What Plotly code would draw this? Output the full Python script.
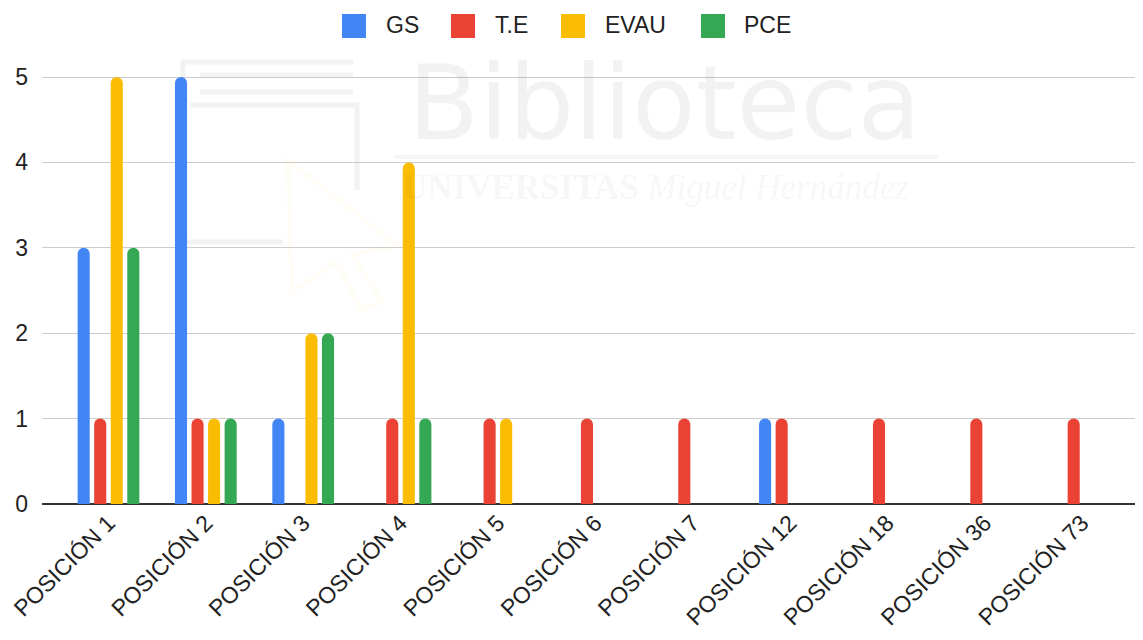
import plotly.graph_objects as go

categories = ["POSICIÓN 1", "POSICIÓN 2", "POSICIÓN 3", "POSICIÓN 4", "POSICIÓN 5",
              "POSICIÓN 6", "POSICIÓN 7", "POSICIÓN 12", "POSICIÓN 18", "POSICIÓN 36", "POSICIÓN 73"]
gs   = [3, 5, 1, 0, 0, 0, 0, 1, 0, 0, 0]
te   = [1, 1, 0, 1, 1, 1, 1, 1, 1, 1, 1]
evau = [5, 1, 2, 4, 1, 0, 0, 0, 0, 0, 0]
pce  = [3, 1, 2, 1, 0, 0, 0, 0, 0, 0, 0]
series_names = ["GS", "T.E", "EVAU", "PCE"]
y_ticks = [0, 1, 2, 3, 4, 5]

colors = ["#4285F4", "#EA4335", "#FBBC04", "#34A853"]
series = list(zip(series_names, [gs, te, evau, pce], colors))

FONT = "Liberation Sans, Arial, sans-serif"
TXT = "#222222"

fig = go.Figure()
for name, vals, col in series:
    fig.add_trace(go.Bar(name=name, x=categories, y=vals, marker_color=col,
                         marker_line_width=0, showlegend=False))

# page has an 8px body margin; plot area in page pixels: x 42..1143, y 70..504
OFF = 8
W, H = 1143 - OFF, 640 - OFF
P_LEFT, P_RIGHT, P_TOP, P_BOTTOM = 42, 1143, 70, 504
left, right = P_LEFT - OFF, (W + OFF) - P_RIGHT
top, bottom = P_TOP - OFF, (H + OFF) - P_BOTTOM
plot_w = P_RIGHT - P_LEFT
plot_h = P_BOTTOM - P_TOP
ymax = 5 * plot_h / (P_BOTTOM - 77)

fig.update_layout(
    width=W, height=H,
    margin=dict(l=left, r=right, t=top, b=bottom, pad=0, autoexpand=False),
    paper_bgcolor="white", plot_bgcolor="white",
    barmode="group", bargap=0.32, bargroupgap=0.27,
    barcornerradius=6,
    font=dict(family=FONT, size=23, color=TXT),
    showlegend=False,
    xaxis=dict(range=[-0.683, 10.627], tickangle=-45, showgrid=False, automargin=False,
               showline=False, zeroline=False, ticks="",
               tickfont=dict(size=23, color=TXT)),
    yaxis=dict(range=[0, ymax], tickvals=y_ticks, showgrid=True, gridcolor="#cccccc",
               gridwidth=1, zeroline=True, zerolinecolor="#333333", zerolinewidth=2,
               showline=False, ticks="", ticklabelstandoff=13, automargin=False,
               tickfont=dict(size=23, color=TXT)),
)

def px_x(px):
    return (px - P_LEFT) / plot_w

def px_y(py):
    return (P_BOTTOM - py) / plot_h

def path(points, close=False):
    s = "M" + " L".join(f"{px_x(x):.5f},{px_y(y):.5f}" for x, y in points)
    return s + (" Z" if close else "")

# faint watermark from the source document (library logo + name)
WM = "rgba(0,0,0,0.05)"
WM_LINE = dict(color="rgba(0,0,0,0.05)", width=5)
logo_lines = [
    [(353, 62), (183, 62), (183, 242), (283, 242)],
    [(200, 75), (353, 75)],
    [(200, 92), (353, 92)],
    [(190, 105), (357, 105), (357, 190)],
]
for pts in logo_lines:
    fig.add_shape(type="path", xref="paper", yref="paper", path=path(pts),
                  line=WM_LINE, layer="below")
fig.add_shape(type="path", xref="paper", yref="paper",
              path=path([(288, 160), (398, 246), (352, 254), (382, 302), (362, 310),
                         (336, 262), (292, 292)], close=True),
              line=dict(color="rgba(251,188,4,0.035)", width=5), layer="below")

fig.add_annotation(text="Biblioteca", x=px_x(664), y=px_y(103), xref="paper", yref="paper",
                   xanchor="center", yanchor="middle", showarrow=False,
                   font=dict(size=104, color=WM, family="DejaVu Sans, sans-serif"))
fig.add_shape(type="line", xref="paper", yref="paper", x0=px_x(394), x1=px_x(938),
              y0=px_y(157), y1=px_y(157), line=dict(color="rgba(0,0,0,0.04)", width=4),
              layer="below")
fig.add_annotation(text="<b>UNIVERSITAS</b> <i>Miguel Hernández</i>", x=px_x(655), y=px_y(187),
                   xref="paper", yref="paper", xanchor="center", yanchor="middle",
                   showarrow=False,
                   font=dict(size=35, color=WM, family="Liberation Serif, serif"))

# legend at top centre (square swatches + labels)
swatch_x = [342, 451, 561, 701]
label_x = [384, 493, 603, 742]
for (name, vals, col), sx, lx in zip(series, swatch_x, label_x):
    fig.add_shape(type="rect", xref="paper", yref="paper",
                  x0=px_x(sx), x1=px_x(sx + 24), y0=px_y(38), y1=px_y(14),
                  fillcolor=col, line=dict(width=0), layer="above")
    fig.add_annotation(text=name, xref="paper", yref="paper", x=px_x(lx), y=px_y(25),
                       xanchor="left", yanchor="middle", showarrow=False,
                       font=dict(size=23, color=TXT, family=FONT))

fig.write_html("out.html")
